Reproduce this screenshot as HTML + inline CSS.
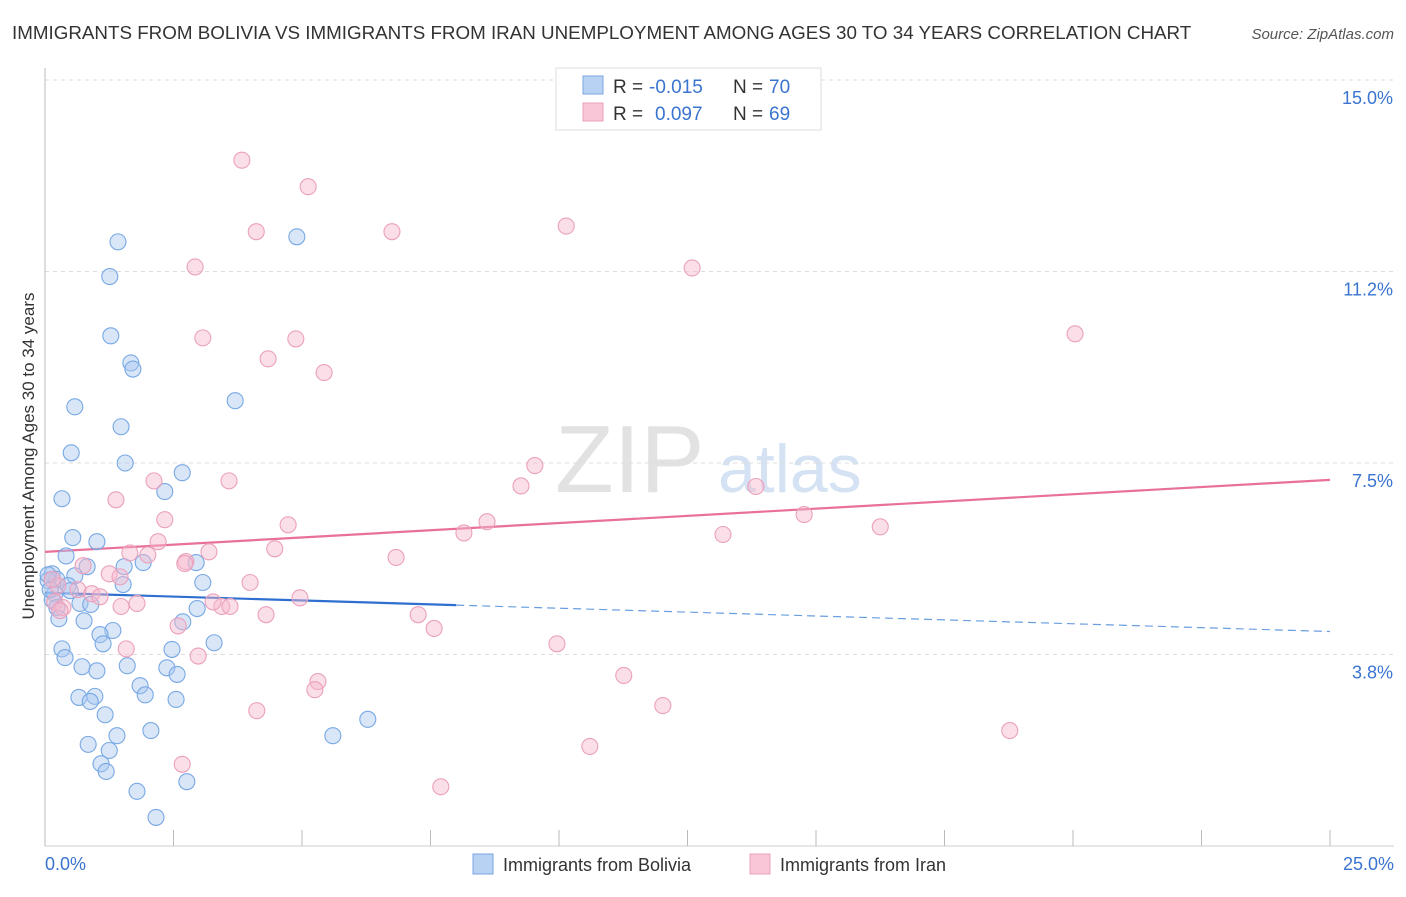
<!DOCTYPE html>
<html><head><meta charset="utf-8"><style>
body{margin:0;background:#fff;font-family:"Liberation Sans",sans-serif}
svg text{font-family:"Liberation Sans",sans-serif}
</style></head><body>
<svg id="chart" width="1406" height="892" viewBox="0 0 1406 892" xmlns="http://www.w3.org/2000/svg">
<text x="12" y="39" font-size="18.8" fill="#333">IMMIGRANTS FROM BOLIVIA VS IMMIGRANTS FROM IRAN UNEMPLOYMENT AMONG AGES 30 TO 34 YEARS CORRELATION CHART</text>
<text x="1394" y="39" font-size="15" fill="#555" text-anchor="end" font-style="italic">Source: ZipAtlas.com</text>
<g>
<text x="555" y="492" font-size="96" fill="#e2e2e2" font-family="Liberation Serif, serif">ZIP</text>
<text x="718" y="492" font-size="68" fill="#d4e2f4">atlas</text>
</g>
<g id="grid"></g>
<g id="axes"></g>
<g id="trends"></g>
<g id="points"></g>
<text transform="translate(34,456) rotate(-90)" font-size="17" fill="#333" text-anchor="middle">Unemployment Among Ages 30 to 34 years</text>
<g>
<rect x="556" y="68" width="265" height="62" fill="#fff" stroke="#ddd"/>
<rect x="583" y="76" width="20" height="18" fill="#b8d2f4" stroke="#7aa6e0"/>
<rect x="583" y="103" width="20" height="18" fill="#f8c6d6" stroke="#eca0ba"/>
<text x="613" y="93" font-size="19" fill="#333">R =</text>
<text x="649" y="93" font-size="19" fill="#3a74d0">-0.015</text>
<text x="733" y="93" font-size="19" fill="#333">N =</text>
<text x="769" y="93" font-size="19" fill="#3a74d0">70</text>
<text x="613" y="120" font-size="19" fill="#333">R =</text>
<text x="655" y="120" font-size="19" fill="#3a74d0">0.097</text>
<text x="733" y="120" font-size="19" fill="#333">N =</text>
<text x="769" y="120" font-size="19" fill="#3a74d0">69</text>
</g>
<g>
<rect x="473" y="854" width="20" height="20" fill="#b8d2f4" stroke="#7aa6e0"/>
<text x="503" y="871" font-size="18" fill="#333">Immigrants from Bolivia</text>
<rect x="750" y="854" width="20" height="20" fill="#f8c6d6" stroke="#eca0ba"/>
<text x="780" y="871" font-size="18" fill="#333">Immigrants from Iran</text>
</g>
</svg>
<script>
const yTicks=[3.75,7.5,11.25,15];
const yTickLabels=["3.8%","7.5%","11.2%","15.0%"];
const xTickLabels=["0.0%","25.0%"];
const boliviaX=[1.26,1.42,4.90,1.28,1.67,1.71,3.70,0.58,1.48,0.51,1.56,2.67,2.33,0.33,0.54,1.01,0.41,1.91,2.94,1.54,0.14,0.58,0.23,0.82,0.45,0.06,1.52,3.07,0.49,0.19,0.14,0.68,0.89,0.23,2.96,2.68,0.27,0.76,1.32,1.07,1.13,3.29,0.33,2.47,0.39,1.60,2.37,0.72,1.01,2.57,1.85,0.66,0.97,1.95,0.88,2.55,1.17,6.28,2.06,1.40,5.60,0.84,1.25,1.09,1.19,2.76,1.79,2.16,0.10,0.06];
const boliviaY=[11.15,11.83,11.93,9.99,9.46,9.34,8.72,8.60,8.21,7.70,7.50,7.31,6.94,6.80,6.04,5.96,5.68,5.55,5.55,5.47,5.33,5.29,5.22,5.47,5.10,5.20,5.12,5.16,5.00,4.94,4.82,4.75,4.73,4.67,4.65,4.39,4.45,4.41,4.22,4.14,3.96,3.98,3.86,3.85,3.69,3.53,3.49,3.51,3.43,3.36,3.14,2.91,2.93,2.96,2.83,2.87,2.57,2.48,2.26,2.16,2.16,1.99,1.87,1.61,1.46,1.26,1.07,0.56,5.02,5.31];
const iranX=[3.83,5.12,4.11,6.75,10.14,2.92,12.59,3.07,4.88,4.34,5.43,20.04,9.53,2.12,3.58,9.26,13.83,1.38,2.33,4.73,8.60,14.77,16.25,8.15,13.19,2.20,3.19,1.65,2.00,4.47,6.83,2.74,0.74,1.25,1.46,3.99,0.25,0.64,0.91,1.07,4.96,0.19,1.79,1.48,3.44,3.27,3.60,0.35,4.30,7.26,2.59,7.57,1.58,2.98,9.96,5.31,5.25,11.26,12.02,4.12,18.77,10.60,2.67,7.70,0.29,2.72,0.14];
const iranY=[13.43,12.91,12.03,12.03,12.14,11.34,11.32,9.95,9.93,9.54,9.27,10.03,7.45,7.15,7.15,7.05,7.04,6.78,6.39,6.29,6.35,6.49,6.25,6.13,6.10,5.96,5.76,5.74,5.70,5.82,5.65,5.57,5.49,5.33,5.27,5.16,5.10,5.02,4.94,4.88,4.86,4.78,4.75,4.69,4.69,4.78,4.69,4.67,4.53,4.53,4.31,4.26,3.86,3.72,3.96,3.22,3.06,3.34,2.75,2.65,2.26,1.95,1.60,1.16,4.61,5.53,5.22];
const boliviaTrend=[4.96,4.20];
const iranTrend=[5.76,7.17];
const boliviaSolidEnd=8.0;

const NS="http://www.w3.org/2000/svg";
const X0=45,X1=1330,Y0=846,YTOP=80;
const sx=v=>X0+v/25*(X1-X0);
const sy=v=>Y0-v/15*(Y0-YTOP);
function mk(tag,attrs,parent){const e=document.createElementNS(NS,tag);for(const k in attrs)e.setAttribute(k,attrs[k]);parent.appendChild(e);return e;}
const grid=document.getElementById('grid'),axes=document.getElementById('axes'),trends=document.getElementById('trends'),pts=document.getElementById('points');
yTicks.forEach((t,i)=>{
 const l=mk('line',{x1:X0,x2:1394,y1:sy(t),y2:sy(t),stroke:'#ddd','stroke-dasharray':'4,4'},grid);
 
 
 const tx=mk('text',{x:1393,y:sy(t)+24,'font-size':18,fill:'#3a74d0','text-anchor':'end'},axes);
 tx.textContent=yTickLabels[i];
 
 
});
const ya=mk('line',{x1:X0,x2:X0,y1:68,y2:Y0,stroke:'#bbb'},axes);


const xa=mk('line',{x1:X0,x2:1394,y1:Y0,y2:Y0,stroke:'#ccc'},axes);


for(let k=0;k<=10;k++){
 const t=mk('line',{x1:sx(k*2.5),x2:sx(k*2.5),y1:Y0-16,y2:Y0,stroke:'#bbb'},axes);
 
 
}
[[0,'start',X0],[25,'end',1394]].forEach((d,i)=>{
 const tx=mk('text',{x:d[2],y:870,'font-size':18,fill:'#3a74d0','text-anchor':d[1]},axes);
 tx.textContent=xTickLabels[i];
 
 
});
function drawPts(xs,ys,fill,stroke,name){
 xs.forEach((x,i)=>{
  const c=mk('circle',{cx:sx(x),cy:sy(ys[i]),r:8,fill:fill,'fill-opacity':0.45,stroke:stroke,'stroke-width':1.1},pts);
  
  
 });
}
drawPts(boliviaX,boliviaY,'#a8c8f0','#78a8e4','bolivia-point');
drawPts(iranX,iranY,'#f6b8cc','#eba0bc','iran-point');
const bm=boliviaTrend[0]+(boliviaTrend[1]-boliviaTrend[0])*boliviaSolidEnd/25;
const b1=mk('line',{x1:sx(0),y1:sy(boliviaTrend[0]),x2:sx(boliviaSolidEnd),y2:sy(bm),stroke:'#2f6fd0','stroke-width':2.2},trends);


const b2=mk('line',{x1:sx(boliviaSolidEnd),y1:sy(bm),x2:sx(25),y2:sy(boliviaTrend[1]),stroke:'#6a9ee0','stroke-width':1.2,'stroke-dasharray':'8,5'},trends);


const p1=mk('line',{x1:sx(0),y1:sy(iranTrend[0]),x2:sx(25),y2:sy(iranTrend[1]),stroke:'#e8709a','stroke-width':2.2},trends);


</script>
</body></html>
